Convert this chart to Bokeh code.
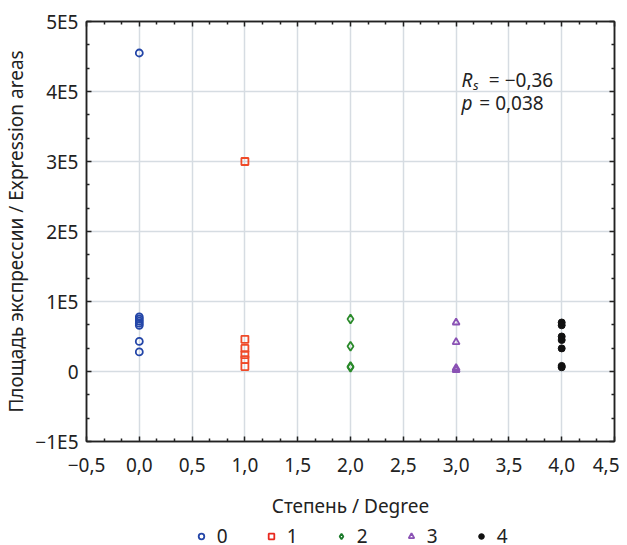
from bokeh.plotting import figure
from bokeh.layouts import column
from bokeh.models import (FixedTicker, LinearAxis, Legend, LegendItem, Label, Range1d)
from bokeh.embed import file_html
from bokeh.resources import INLINE

# ---- data ----
degree_0 = [0, 0, 0, 0, 0, 0, 0, 0]
area_0 = [455000, 78000, 75000, 72000, 69000, 66000, 43000, 28000]
degree_1 = [1, 1, 1, 1, 1, 1]
area_1 = [300000, 46000, 33000, 24000, 17000, 7000]
degree_2 = [2, 2, 2, 2]
area_2 = [75000, 36000, 7000, 6000]
degree_3 = [3, 3, 3, 3, 3]
area_3 = [70000, 42000, 5000, 3000, 2000]
degree_4 = [4, 4, 4, 4, 4, 4, 4]
area_4 = [70000, 66000, 50000, 45000, 33000, 8000, 6000]

series_names = ["0", "1", "2", "3", "4"]
x_ticks = [-0.5, 0.0, 0.5, 1.0, 1.5, 2.0, 2.5, 3.0, 3.5, 4.0, 4.5]
x_tick_labels = ["\u22120,5", "0,0", "0,5", "1,0", "1,5", "2,0", "2,5", "3,0", "3,5", "4,0", "4,5"]
y_ticks = [-100000, 0, 100000, 200000, 300000, 400000, 500000]
y_tick_labels = ["\u22121E5", "0", "1E5", "2E5", "3E5", "4E5", "5E5"]
rs_text = "= \u22120,36"
p_text = "= 0,038"

FONT = "Noto Sans"
styles = [
    dict(marker="circle", size=7, fill_color=None, line_color="#2446a8", line_width=1.8),
    dict(marker="square", size=7, fill_color=None, line_color="#ef4a28", line_width=1.8),
    dict(marker="diamond", size=9, fill_color=None, line_color="#2a8a2a", line_width=1.8),
    dict(marker="triangle", size=7, fill_color=None, line_color="#8a52b4", line_width=1.8),
    dict(marker="circle", size=7, fill_color="#111111", line_color="#111111", line_width=1),
]
legend_colors = ["#2446a8", "#e8281e", "#1a7a2a", "#8a52b4", "#111111"]
legend_sizes = [10, 10, 13, 10, 10]

p = figure(frame_width=528, frame_height=420, output_backend="svg", toolbar_location=None,
           x_range=Range1d(-0.5, 4.5), y_range=Range1d(-100000, 500000),
           min_border_left=78, min_border_right=5, min_border_top=21, min_border_bottom=75,
           x_axis_label="Степень / Degree",
           y_axis_label="Площадь экспрессии / Expression areas")
p.background_fill_color = "white"
p.border_fill_color = "white"
p.outline_line_color = "#222222"
p.outline_line_width = 1.5

x_minor = []
for a, b in zip(x_ticks[:-1], x_ticks[1:]):
    x_minor += [a + (b - a) / 3, a + 2 * (b - a) / 3]
y_minor = []
for a, b in zip(y_ticks[:-1], y_ticks[1:]):
    y_minor += [a + (b - a) / 3, a + 2 * (b - a) / 3]

xt = FixedTicker(ticks=x_ticks, minor_ticks=x_minor)
yt = FixedTicker(ticks=y_ticks, minor_ticks=y_minor)

def style_axis(ax, ticker, labels, show_labels=True):
    ax.ticker = ticker
    ax.major_label_overrides = labels
    ax.axis_line_color = "#222222"
    ax.axis_line_width = 1.5
    ax.major_tick_in = 5
    ax.major_tick_out = 0
    ax.minor_tick_in = 3
    ax.minor_tick_out = 0
    ax.major_tick_line_color = "#222222"
    ax.minor_tick_line_color = "#222222"
    ax.major_tick_line_width = 1.5
    ax.minor_tick_line_width = 1.5
    ax.major_label_text_font = FONT
    ax.major_label_text_font_size = "19px" if show_labels else "0px"
    ax.major_label_text_color = "#222222"
    ax.axis_label_text_font = FONT
    ax.axis_label_text_font_size = "19px"
    ax.axis_label_text_font_style = "normal"
    ax.axis_label_text_color = "#222222"

style_axis(p.xaxis[0], xt, {v: s for v, s in zip(x_ticks, x_tick_labels)})
style_axis(p.yaxis[0], yt, {v: s for v, s in zip(y_ticks, y_tick_labels)})
p.xaxis[0].major_label_standoff = 16
p.xaxis[0].axis_label_standoff = 18
p.yaxis[0].major_label_standoff = 8
p.yaxis[0].axis_label_standoff = 3

top = LinearAxis()
style_axis(top, xt, {}, show_labels=False)
top.major_label_standoff = 0
p.add_layout(top, "above")
right = LinearAxis()
style_axis(right, yt, {}, show_labels=False)
right.major_label_standoff = 0
p.add_layout(right, "right")

p.xgrid.ticker = xt
p.ygrid.ticker = yt
p.xgrid.grid_line_color = "#d6dce2"
p.ygrid.grid_line_color = "#d6dce2"
p.xgrid.grid_line_width = 1.5
p.ygrid.grid_line_width = 1.5

xs = [degree_0, degree_1, degree_2, degree_3, degree_4]
ys = [area_0, area_1, area_2, area_3, area_4]
for xv, yv, st in zip(xs, ys, styles):
    p.scatter(xv, yv, **st)

lab_kw = dict(text_font=FONT, text_font_size="19px", text_color="#222222",
              text_baseline="alphabetic")
p.add_layout(Label(x=3.05, y=417000, text="R", text_font_style="italic", **lab_kw))
p.add_layout(Label(x=3.16, y=410000, text="s", text_font_style="italic",
                   text_font=FONT, text_font_size="13px", text_color="#222222",
                   text_baseline="alphabetic"))
p.add_layout(Label(x=3.31, y=417000, text=rs_text, **lab_kw))
p.add_layout(Label(x=3.05, y=384000, text="p", text_font_style="italic", **lab_kw))
p.add_layout(Label(x=3.22, y=384000, text=p_text, **lab_kw))

# ---- legend strip below the plot (series drawn out of view, only swatches show) ----
q = figure(frame_width=528, frame_height=32, output_backend="svg", toolbar_location=None,
           x_range=Range1d(10, 11), y_range=Range1d(10, 11),
           x_axis_location=None, y_axis_location=None,
           min_border_left=78, min_border_right=5, min_border_top=0, min_border_bottom=0)
q.outline_line_color = None
q.xgrid.visible = False
q.ygrid.visible = False
items = []
for name, xv, yv, st, lc, sz in zip(series_names, xs, ys, styles, legend_colors, legend_sizes):
    st2 = dict(st)
    st2["line_color"] = lc
    st2["size"] = sz
    if st2["fill_color"] is not None:
        st2["fill_color"] = lc
    r = q.scatter(xv, yv, **st2)
    items.append(LegendItem(label=name, renderers=[r]))
legend = Legend(items=items, orientation="horizontal", location=(166, 4),
                label_text_font=FONT, label_text_font_size="19px",
                label_text_color="#222222",
                glyph_width=14, glyph_height=14, spacing=27, padding=0,
                margin=0, border_line_color=None, background_fill_alpha=0,
                label_standoff=9)
q.add_layout(legend, "center")

layout = column(p, q, spacing=0)
open("out.html", "w").write(file_html(layout, INLINE))
